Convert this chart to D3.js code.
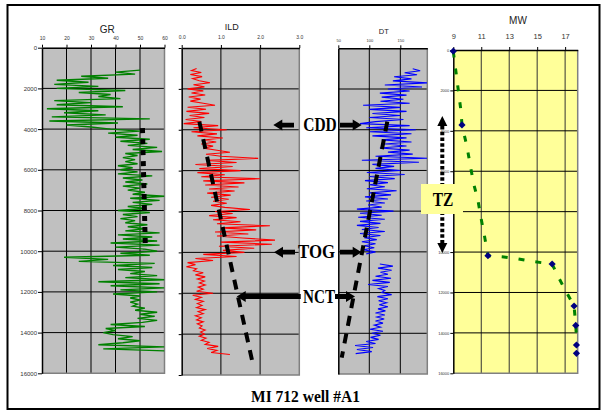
<!DOCTYPE html>
<html>
<head>
<meta charset="utf-8">
<script src="https://cdn.jsdelivr.net/npm/d3@7"></script>
<style>
  body { margin: 0; background: #fff; }
</style>
</head>
<body>
<div id="canvas"></div>
<script>
"use strict";

/*
*/

let depthTicks = [0, 2000, 4000, 6000, 8000, 10000, 12000, 14000, 16000];
let grTicks = [10, 20, 30, 40, 50, 60];
let ildTicks = [0, 1, 2, 3];
let dtTicks = [50, 100, 150];
let mwTicks = [9, 11, 13, 15, 17];

// log samples every 100 ft
let logStep = 100;

let grStart = 1100;
let grValues = [
    50, 40, 48, 26, 37, 16, 29, 15, 33, 16, 44, 25, 38, 33, 42, 15, 30, 16, 43, 12,
    33, 19, 36, 14, 54, 13, 41, 20, 30, 38, 50, 37, 49, 40, 54, 42, 53, 45, 57, 47,
    59, 44, 49, 43, 48, 44, 49, 41, 47, 42, 49, 41, 55, 43, 51, 44, 53, 43, 50, 45,
    52, 47, 60, 46, 58, 47, 55, 45, 52, 41, 54, 43, 49, 42, 48, 44, 53, 45, 52, 44,
    58, 41, 55, 43, 57, 38, 58, 40, 52, 57, 42, 54, 19, 37, 25, 56, 39, 55, 41, 52,
    46, 57, 44, 60, 33, 58, 38, 60, 42, 57, 39, 50, 46, 50, 46, 49, 47, 52, 48, 57,
    50, 56, 49, 57, 51, 38, 52, 36, 40, 35, 39, 47, 41, 50, 43, 33, 60, 35, 60
];

let ildStart = 1000;
let ildValues = [
    0.38, 0.25, 0.50, 0.22, 0.52, 0.28, 0.45, 0.72, 0.30, 0.58,
    0.15, 0.55, 0.25, 0.60, 0.18, 0.48, 0.22, 0.55, 0.85, 0.15,
    0.62, 0.12, 0.70, 0.20, 0.58, 0.10, 0.50, 0.05, 0.93, 0.30,
    1.15, 0.25, 0.90, 0.40, 1.05, 0.55, 0.88, 0.50, 0.80, 0.55,
    0.90, 1.23, 0.62, 1.00, 1.95, 0.65, 1.40, 0.35, 1.30, 0.45,
    1.50, 0.40, 1.10, 0.50, 2.00, 0.55, 1.60, 0.60, 1.45, 0.70,
    1.35, 0.65, 1.25, 0.75, 1.20, 0.80, 1.15, 0.75, 1.10, 1.74,
    0.85, 1.30, 0.70, 1.40, 0.80, 1.50, 0.90, 2.25, 1.00, 1.90,
    0.85, 1.70, 0.90, 1.55, 2.38, 1.00, 2.30, 0.95, 1.85, 1.05,
    1.60, 0.55, 1.40, 0.35, 0.80, 0.15, 0.35, 0.12, 0.38, 0.30,
    0.55, 0.35, 0.60, 0.40, 0.58, 0.45, 0.60, 0.42, 0.55, 0.38,
    0.80, 0.28, 0.50, 0.35, 0.55, 0.40, 0.52, 0.38, 0.60, 0.42,
    0.55, 0.35, 0.50, 0.38, 0.55, 0.40, 0.52, 0.45, 0.60, 0.48,
    0.58, 0.45, 0.62, 0.50, 0.70, 0.60, 0.93, 0.65, 0.90, 0.75,
    1.23
];

let dtStart = 1000;
let dtValues = [
    170, 182, 157, 177, 140, 168, 138, 193, 125, 185,
    130, 165, 117, 160, 120, 155, 118, 165, 90, 150,
    100, 160, 105, 150, 100, 155, 110, 85, 165, 95,
    175, 101, 168, 105, 160, 120, 168, 125, 160, 117,
    165, 130, 170, 110, 193, 88, 180, 105, 140, 110,
    150, 96, 157, 100, 141, 93, 130, 100, 125, 96,
    144, 100, 135, 93, 130, 95, 125, 98, 120, 80,
    139, 85, 120, 82, 125, 85, 118, 80, 115, 88,
    125, 85, 118, 92, 112, 88, 110, 92, 108, 90,
    110, 95, null, null, null, null, 117, 138, 114, 136,
    118, 130, 110, 135, 105, 133, 98, 130, 115, 125,
    120, 136, 113, 130, 115, 128, 116, 130, 114, 126,
    110, 125, 112, 124, 110, 122, 108, 118, 101, 122,
    104, 118, 102, 115, 95, 110, 77, 106, 80, 104,
    78
];

// mud weight picks [mw, depth]
let mwPoints = [
    [9.0, 60], [9.62, 3710], [11.48, 10180], [16.07, 10590],
    [17.64, 12670], [17.76, 13630], [17.81, 14600], [17.81, 15010]
];

// green dashed mud weight trend [mw, depth]
let mwTrend = [
    [9.0, 80], [9.21, 1190], [9.38, 2110], [9.55, 3020], [9.62, 3710],
    [9.98, 4790], [10.21, 5690], [10.45, 6600], [10.76, 7430], [11.0, 8380],
    [11.24, 9240], [11.48, 10180], [12.48, 10230], [13.55, 10330], [14.62, 10460],
    [15.69, 10560], [16.07, 10590], [16.48, 11190], [17.07, 11960], [17.64, 12670],
    [17.76, 13610], [17.84, 14550]
];

// black dashed normal compaction trends [value, depth]
let grTrend = [[51, 3950], [52.2, 9900]];
let ildTrend = [[0.45, 3600], [1.82, 15500]];
let dtTrend = [[129, 3600], [55.5, 15200]];

let markers = [
    { label: "CDD", depth: 3770 },
    { label: "TOG", depth: 9990 },
    { label: "NCT", depth: 12160 }
];

/*
   SVG setup
*/

let svgWidth = 604;
let svgHeight = 412;

let svg = d3.select("#canvas")
    .append("svg")
    .attr("width", svgWidth)
    .attr("height", svgHeight)
    .style("display", "block");

svg.append("rect")
    .attr("width", svgWidth)
    .attr("height", svgHeight)
    .attr("fill", "#fff");

// outer frame
svg.append("rect")
    .attr("x", 7.5)
    .attr("y", 5)
    .attr("width", 592)
    .attr("height", 404)
    .attr("fill", "none")
    .attr("stroke", "#000")
    .attr("stroke-width", 2);

let defs = svg.append("defs");

// draws one log track and returns its scales
function drawTrack(t) {
    let x = d3.scaleLinear().domain(t.domain).range([t.x0, t.x1]);
    let y = d3.scaleLinear().domain([0, 16000]).range([t.y0, t.y1]);

    svg.append("rect")
        .attr("x", t.x0)
        .attr("y", t.y0)
        .attr("width", t.x1 - t.x0)
        .attr("height", t.y1 - t.y0)
        .attr("fill", t.fill);

    // grid
    let g = svg.append("g").attr("stroke", "#000").attr("stroke-width", 1);
    g.selectAll(".vg")
        .data(t.ticks.filter(v => x(v) > t.x0 + 2 && x(v) < t.x1 - 2))
        .join("line")
        .attr("x1", d => x(d)).attr("x2", d => x(d))
        .attr("y1", t.y0).attr("y2", t.y1)
        .attr("stroke", t.vGrid || "#000");
    g.selectAll(".hg")
        .data(depthTicks.slice(1, -1))
        .join("line")
        .attr("x1", t.x0).attr("x2", t.x1)
        .attr("y1", d => y(d)).attr("y2", d => y(d));

    // right and bottom border
    svg.append("path")
        .attr("d", `M${t.x1},${t.y0}V${t.y1}H${t.x0}`)
        .attr("fill", "none")
        .attr("stroke", "#808080")
        .attr("stroke-width", 1.5);

    // top axis
    let top = svg.append("g")
        .attr("transform", `translate(0,${t.y0})`)
        .call(d3.axisTop(x).tickValues(t.ticks).tickSize(3).tickPadding(t.topPad).tickSizeOuter(0));
    top.select(".domain").attr("stroke", "#000").attr("stroke-width", 1.5);
    top.selectAll("text")
        .attr("font-family", "Liberation Sans, Arial, sans-serif")
        .attr("font-size", t.topFont)
        .attr("fill", "#333");

    // left axis
    let left = svg.append("g")
        .attr("transform", `translate(${t.x0},0)`)
        .call(d3.axisLeft(y).tickValues(depthTicks).tickSize(t.leftTick).tickPadding(1)
            .tickSizeOuter(0)
            .tickFormat(t.leftFont ? d3.format("d") : ""));
    left.select(".domain").attr("stroke", "#000").attr("stroke-width", 1.5);
    left.selectAll("text")
        .attr("font-family", "Liberation Sans, Arial, sans-serif")
        .attr("font-size", t.leftFont || 0)
        .attr("fill", "#333");

    // title
    svg.append("text")
        .attr("x", (t.x0 + t.x1) / 2 + (t.titleDx || 0))
        .attr("y", t.titleY)
        .attr("text-anchor", "middle")
        .attr("font-family", "Liberation Sans, Arial, sans-serif")
        .attr("font-size", t.titleSize)
        .attr("fill", "#222")
        .text(t.title);

    defs.append("clipPath")
        .attr("id", "clip-" + t.title)
        .append("rect")
        .attr("x", t.x0).attr("y", t.y0)
        .attr("width", t.x1 - t.x0).attr("height", t.y1 - t.y0);

    return { x, y, clip: `url(#clip-${t.title})` };
}

function logSeries(start, values) {
    return values.map((v, i) => ({ depth: start + i * logStep, v: v }));
}

function drawLog(track, data, color, width) {
    let line = d3.line()
        .defined(d => d.v !== null)
        .x(d => track.x(d.v))
        .y(d => track.y(d.depth));
    svg.append("path")
        .datum(data)
        .attr("clip-path", track.clip)
        .attr("d", line)
        .attr("fill", "none")
        .attr("stroke", color)
        .attr("stroke-width", width)
        .attr("stroke-linejoin", "miter");
}

function drawTrend(track, pts, dash, width, color) {
    let line = d3.line()
        .x(d => track.x(d[0]))
        .y(d => track.y(d[1]));
    svg.append("path")
        .datum(pts)
        .attr("d", line)
        .attr("fill", "none")
        .attr("stroke", color || "#000")
        .attr("stroke-width", width)
        .attr("stroke-dasharray", dash);
}

/*
   Tracks
*/

let gr = drawTrack({
    title: "GR", domain: [10, 60], ticks: grTicks,
    x0: 42, x1: 164.5, y0: 47.7, y1: 373.3, fill: "#c0c0c0",
    topPad: 5, topFont: 5, leftTick: 4, leftFont: 6,
    titleY: 33, titleSize: 10, titleDx: 4
});

let ild = drawTrack({
    title: "ILD", domain: [0, 3], ticks: ildTicks,
    x0: 181.7, x1: 299.3, y0: 48, y1: 375, fill: "#c0c0c0",
    topPad: 6, topFont: 5, leftTick: 3, leftFont: 0,
    titleY: 29.5, titleSize: 9, titleDx: -8.8
});

let dt = drawTrack({
    title: "DT", domain: [50, 193.5], ticks: dtTicks,
    x0: 338.3, x1: 427.3, y0: 48.3, y1: 374, fill: "#c0c0c0",
    topPad: 3.5, topFont: 4, leftTick: 0, leftFont: 0,
    titleY: 34, titleSize: 7.5, titleDx: 1
});

let mw = drawTrack({
    title: "MW", domain: [9, 17.9], ticks: mwTicks,
    x0: 453.3, x1: 577.7, y0: 50, y1: 373.3, fill: "#ffff99",
    topPad: 8, topFont: 7.5, leftTick: 3, leftFont: 4,
    titleY: 24, titleSize: 10, titleDx: 2.5, vGrid: "#333"
});

// logs
drawLog(gr, logSeries(grStart, grValues), "#008000", 1.4);
drawLog(ild, logSeries(ildStart, ildValues), "#ff0000", 1.1);
drawLog(dt, logSeries(dtStart, dtValues), "#0000ff", 1.1);

// compaction trends
drawTrend(gr, grTrend, "5,6", 5);
drawTrend(ild, ildTrend, "10,8", 4);
drawTrend(dt, dtTrend, "10,8", 4);

// mud weight
drawTrend(mw, mwTrend, "6,11", 3, "#008000");

svg.append("g")
    .selectAll("path")
    .data(mwPoints)
    .join("path")
    .attr("transform", d => `translate(${mw.x(d[0])},${mw.y(d[1])}) rotate(45)`)
    .attr("d", d3.symbol(d3.symbolSquare, 26))
    .attr("fill", "#000080");

/*
   Annotations
*/

function blockArrow(tipX, y, tailX, head) {
    let s = tailX > tipX ? 1 : -1;
    let hl = head || 9, hh = 5.5, sh = 2.4;
    return `M${tipX},${y}L${tipX + s * hl},${y - hh}L${tipX + s * hl},${y - sh}L${tailX},${y - sh}` +
        `L${tailX},${y + sh}L${tipX + s * hl},${y + sh}L${tipX + s * hl},${y + hh}Z`;
}

let markerLayout = {
    CDD: { leftTip: 273.3, leftTail: 294, rightTail: 340, rightTip: 361.7, textX: 320, textW: 33.5 },
    TOG: { leftTip: 274, leftTail: 295, rightTail: 340, rightTip: 361.7, textX: 316.5, textW: 37 },
    NCT: { leftTip: 236.7, leftTail: 300.7, rightTail: 335, rightTip: 355, textX: 319, textW: 32 }
};

markers.forEach(m => {
    let L = markerLayout[m.label];
    let y = ild.y(m.depth);
    svg.append("path").attr("d", blockArrow(L.leftTip, y, L.leftTail)).attr("fill", "#000");
    svg.append("path").attr("d", blockArrow(L.rightTip, y, L.rightTail)).attr("fill", "#000");
    svg.append("text")
        .attr("x", L.textX)
        .attr("y", y + 6)
        .attr("text-anchor", "middle")
        .attr("font-family", "Liberation Serif, Times New Roman, serif")
        .attr("font-weight", "bold")
        .attr("font-size", 19)
        .attr("textLength", L.textW)
        .attr("lengthAdjust", "spacingAndGlyphs")
        .text(m.label);
});

// transition zone arrow
let tzX = 442.3;
let tzTop = mw.y(3270), tzBottom = mw.y(10050);
svg.append("line")
    .attr("x1", tzX).attr("x2", tzX)
    .attr("y1", tzTop + 10).attr("y2", tzBottom - 10)
    .attr("stroke", "#000")
    .attr("stroke-width", 4)
    .attr("stroke-dasharray", "3.5,2.2");
svg.append("path")
    .attr("d", `M${tzX},${tzTop}L${tzX - 5},${tzTop + 10}L${tzX + 5},${tzTop + 10}Z`)
    .attr("fill", "#000");
svg.append("path")
    .attr("d", `M${tzX},${tzBottom}L${tzX - 5},${tzBottom - 10}L${tzX + 5},${tzBottom - 10}Z`)
    .attr("fill", "#000");

svg.append("rect")
    .attr("x", 421)
    .attr("y", 184)
    .attr("width", 42)
    .attr("height", 30)
    .attr("fill", "#ffff99");
svg.append("text")
    .attr("x", 443)
    .attr("y", 206)
    .attr("text-anchor", "middle")
    .attr("font-family", "Liberation Serif, Times New Roman, serif")
    .attr("font-weight", "bold")
    .attr("font-size", 19)
    .attr("textLength", 20.6)
    .attr("lengthAdjust", "spacingAndGlyphs")
    .text("TZ");

// title
svg.append("text")
    .attr("x", 305.5)
    .attr("y", 401.5)
    .attr("text-anchor", "middle")
    .attr("font-family", "Liberation Serif, Times New Roman, serif")
    .attr("font-weight", "bold")
    .attr("font-size", 16.5)
    .attr("textLength", 109)
    .attr("lengthAdjust", "spacingAndGlyphs")
    .text("MI 712 well #A1");
</script>
</body>
</html>
